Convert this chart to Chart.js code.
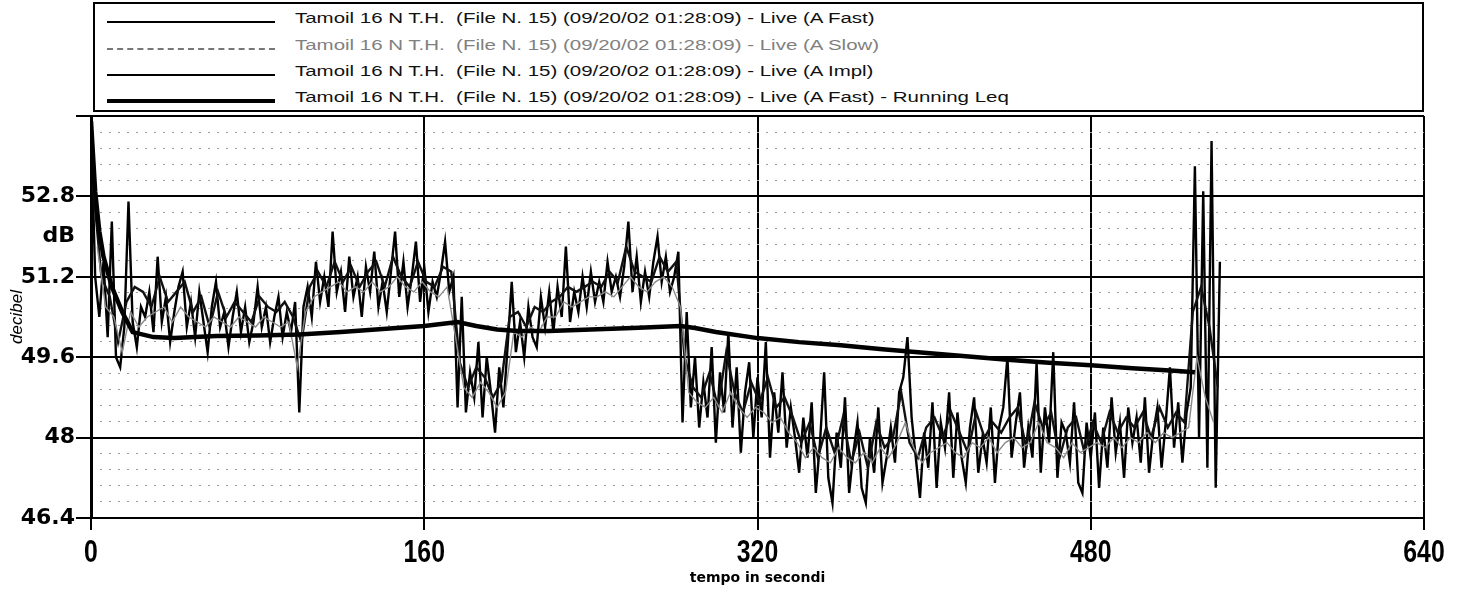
<!DOCTYPE html>
<html>
<head>
<meta charset="utf-8">
<title>Tamoil 16 N T.H.</title>
<script src="https://cdn.jsdelivr.net/npm/chart.js@4.4.1/dist/chart.umd.min.js"></script>
<style>
  html, body { margin: 0; padding: 0; background: #fff; }
  #wrap { position: relative; width: 1461px; height: 590px; overflow: hidden; }
  #chart { position: absolute; left: 0; top: 0; }
  #legend { position: absolute; left: 93px; top: 2px; width: 1331px; height: 110px;
            border: 2px solid #000; box-sizing: border-box; background: #fff; }
  .row { position: absolute; left: 0; width: 100%; height: 26px; }
  .sample { position: absolute; left: 12px; width: 168px; height: 0; }
  .label { position: absolute; left: 200px; top: 0; line-height: 26px; white-space: pre;
           font: 15.5px 'Liberation Sans', Arial, sans-serif;
           transform: scaleX(1.32); transform-origin: 0 50%; }
</style>
</head>
<body>
<div id="wrap">
  <canvas id="chart" width="1461" height="590"></canvas>
  <div id="legend"></div>
</div>
<script>
// time axis (seconds) and dB axis
const xTicks = [0, 160, 320, 480, 640];
const yTicks = [46.4, 48, 49.6, 51.2, 52, 52.8, 54.4];
const yTickLabels = ['46.4', '48', '49.6', '51.2', 'dB', '52.8', ''];

const seriesNames = [
  'Tamoil 16 N T.H.  (File N. 15) (09/20/02 01:28:09) - Live (A Fast)',
  'Tamoil 16 N T.H.  (File N. 15) (09/20/02 01:28:09) - Live (A Slow)',
  'Tamoil 16 N T.H.  (File N. 15) (09/20/02 01:28:09) - Live (A Impl)',
  'Tamoil 16 N T.H.  (File N. 15) (09/20/02 01:28:09) - Live (A Fast) - Running Leq'
];

// A Fast, one value every 2 s starting at 0 s
const fastStart = 0, fastStep = 2;
const fastValues = [
  54.3, 51.2, 50.4, 51.5, 50.0, 52.3, 49.6, 49.4, 50.2, 52.7,   // 0
  50.3, 49.8, 50.6, 50.4, 50.9, 50.1, 51.6, 50.3, 50.8, 49.9,   // 20
  50.5, 51.0, 51.3, 50.2, 50.7, 50.0, 50.9, 50.3, 49.7, 50.6,   // 40
  51.1, 50.2, 50.5, 49.8, 50.4, 50.9, 50.1, 50.6, 49.9, 50.3,   // 60
  51.0, 50.2, 50.6, 49.9, 50.4, 50.8, 50.0, 50.5, 50.1, 50.7,   // 80
  48.5, 50.6, 51.0, 50.4, 51.5, 50.7, 51.2, 50.6, 52.1, 50.9,   // 100
  51.3, 50.5, 51.6, 50.8, 51.2, 50.4, 51.4, 50.9, 51.7, 50.6,   // 120
  51.1, 50.5, 51.3, 52.1, 50.8, 51.5, 50.6, 51.2, 51.9, 50.7,   // 140
  51.4, 50.5, 51.1, 50.8, 51.3, 51.9, 50.9, 51.2, 48.6, 50.8,   // 160
  48.5, 49.3, 48.8, 49.9, 48.4, 49.6, 48.9, 48.1, 49.4, 48.6,   // 180
  49.8, 51.1, 49.7, 50.3, 49.6, 50.6, 50.0, 49.8, 50.8, 50.2,   // 200
  50.9, 50.1, 51.0, 50.4, 51.8, 50.3, 50.9, 50.5, 51.2, 50.6,   // 220
  51.3, 50.7, 51.1, 50.7, 51.5, 50.9, 51.2, 50.8, 51.4, 52.3,   // 240
  50.9, 51.6, 50.7, 51.3, 50.8, 51.5, 52.0, 51.1, 51.6, 50.9,   // 260
  51.2, 51.7, 48.3, 50.5, 48.6, 49.6, 48.2, 49.1, 48.4, 49.8,   // 280
  47.9, 49.3, 48.5, 50.1, 48.2, 49.4, 47.7, 48.9, 49.5, 48.0,   // 300
  49.2, 48.4, 49.9, 47.6, 48.9, 48.1, 49.3, 47.8, 48.6, 48.0,   // 320
  47.3, 48.4, 47.6, 48.7, 46.9, 47.9, 49.3, 47.2, 46.7, 48.1,   // 340
  47.4, 48.8, 46.9, 47.7, 48.3, 47.0, 46.7, 48.0, 47.3, 48.6,   // 360
  47.1, 47.6, 48.2, 47.5, 48.9, 49.2, 50.0, 48.4, 47.6, 46.8,   // 380
  48.1, 47.4, 48.7, 47.0, 48.3, 47.8, 48.9, 47.2, 48.5, 47.6,   // 400
  47.1, 48.2, 48.8, 47.3, 48.0, 47.5, 48.6, 47.1, 48.2, 48.6,   // 420
  49.6, 47.6, 48.3, 48.9, 47.4, 48.2, 47.6, 49.5, 47.3, 48.6,   // 440
  47.9, 49.7, 47.2, 48.3, 48.1, 47.5, 48.7, 47.1, 46.9, 48.3,   // 460
  47.6, 48.5, 47.0, 48.2, 47.4, 48.8, 47.7, 48.3, 47.2, 48.6,   // 480
  47.9, 48.4, 47.5, 48.8, 47.3, 48.1, 48.6, 47.4, 48.3, 49.4,   // 500
  47.8, 48.7, 47.5, 48.5, 49.0, 53.4, 48.0, 52.9, 47.4, 53.9,   // 520
  47.0, 51.5                                                    // 540
];

// A Impl, one value every 4 s starting at 1 s
const implStart = 1, implStep = 4;
const implValues = [
  53.0, 51.2, 50.8, 49.9, 50.7, 51.0, 50.9, 50.6, 51.2, 50.7,   // 1
  50.9, 51.1, 50.5, 50.8, 50.2, 50.9, 50.4, 50.7, 50.5, 50.3,   // 41
  50.8, 50.6, 50.5, 50.7, 50.4, 49.9, 51.0, 51.3, 51.0, 51.5,   // 81
  51.1, 51.4, 51.0, 51.3, 51.5, 51.0, 51.6, 51.2, 51.0, 51.5,   // 121
  51.1, 51.0, 51.4, 51.3, 49.5, 49.0, 49.4, 49.2, 48.8, 49.1,   // 161
  50.4, 50.5, 50.2, 50.6, 50.5, 50.7, 50.8, 51.0, 50.9, 51.0,   // 201
  51.1, 51.0, 51.3, 51.1, 51.8, 51.3, 51.2, 51.1, 51.6, 51.3,   // 241
  51.5, 49.6, 49.0, 48.8, 49.3, 48.6, 49.7, 48.9, 48.5, 49.1,   // 281
  48.7, 49.2, 48.6, 48.8, 48.4, 47.9, 48.3, 47.6, 48.2, 47.7,   // 321
  48.4, 47.5, 48.1, 47.4, 48.3, 47.8, 48.0, 48.9, 47.9, 47.6,   // 361
  48.2, 48.4, 48.0, 48.5, 48.1, 47.7, 48.5, 48.0, 48.3, 48.1,   // 401
  48.4, 48.6, 47.8, 48.7, 48.2, 48.5, 47.6, 48.2, 48.4, 47.7,   // 441
  48.3, 47.9, 48.5, 48.1, 48.4, 48.2, 48.5, 48.0, 48.6, 48.2,   // 481
  48.5, 48.3, 50.5, 51.0, 50.2, 49.0                            // 521
];

// A Slow, one value every 4 s starting at 3 s
const slowStart = 3, slowStep = 4;
const slowValues = [
  51.8, 50.6, 50.4, 49.7, 50.5, 50.2, 50.4, 50.5, 50.6, 50.3,   // 3
  50.6, 50.4, 50.3, 50.2, 50.4, 50.3, 50.2, 50.4, 50.3, 50.2,   // 43
  50.4, 50.3, 50.2, 50.3, 49.4, 50.5, 50.8, 50.9, 51.0, 51.1,   // 83
  50.9, 51.0, 50.9, 51.1, 50.9, 51.0, 51.2, 51.0, 50.9, 51.1,   // 123
  50.9, 50.8, 51.0, 50.0, 49.0, 48.8, 49.1, 48.9, 48.6, 48.9,   // 163
  50.1, 50.0, 50.2, 50.1, 50.4, 50.4, 50.7, 50.6, 50.7, 50.8,   // 203
  50.8, 50.9, 50.8, 51.0, 51.2, 51.0, 50.9, 51.1, 51.2, 51.0,   // 243
  50.6, 48.9, 48.7, 48.6, 48.8, 48.5, 48.9, 48.6, 48.4, 48.6,   // 283
  48.5, 48.3, 48.4, 48.1, 47.9, 47.6, 47.8, 47.6, 47.5, 47.8,   // 323
  47.6, 47.5, 47.7, 47.5, 47.8, 47.6, 47.9, 48.3, 47.8, 47.5,   // 363
  47.7, 47.8, 47.9, 47.7, 47.6, 47.9, 47.8, 48.0, 47.7, 47.9,   // 403
  48.0, 47.8, 47.9, 48.3, 47.9, 47.8, 47.6, 47.9, 47.7, 47.8,   // 443
  47.9, 47.8, 48.0, 47.8, 48.0, 47.9, 48.1, 47.9, 48.1, 48.0,   // 483
  48.1, 48.2, 49.6, 48.8, 48.3                                  // 523
];

// Running Leq of A Fast
const leqTimes = [0, 2, 4, 6, 10, 15, 20, 30, 40, 50, 60, 80, 100, 120, 140, 160, 176, 185, 195,
  205, 220, 240, 260, 283, 290, 300, 320, 340, 360, 380, 400, 420, 440, 460, 480, 500, 520, 530];
const leqValues = [54.3, 52.9, 52.1, 51.6, 51.0, 50.5, 50.1, 50.0, 49.98, 50.0, 50.02, 50.03, 50.05,
  50.1, 50.16, 50.22, 50.3, 50.22, 50.15, 50.12, 50.12, 50.15, 50.18, 50.22, 50.18, 50.1, 49.98,
  49.9, 49.84, 49.76, 49.69, 49.62, 49.55, 49.49, 49.44, 49.38, 49.33, 49.3];

const toPoints = (start, step, values) => values.map((v, i) => ({ x: start + i * step, y: v }));

const isMajor = v => {
  const k = (v - 46.4) / 1.6;
  return Math.abs(k - Math.round(k)) < 1e-6;
};

// x tick labels are condensed in the original; draw them squeezed at the x scale positions
const condensedXLabels = {
  id: 'condensedXLabels',
  afterDraw(chart) {
    const s = chart.scales.x;
    const ctx = chart.ctx;
    const baseY = chart.chartArea.bottom + 44;
    ctx.save();
    ctx.fillStyle = '#000';
    ctx.font = "bold 31px 'Liberation Sans', Arial, sans-serif";
    ctx.textAlign = 'center';
    ctx.textBaseline = 'alphabetic';
    xTicks.forEach(v => {
      ctx.save();
      ctx.translate(s.getPixelForValue(v), baseY);
      ctx.scale(0.8, 1);
      ctx.fillText(String(v), 0, 0);
      ctx.restore();
    });
    ctx.restore();
  }
};

const chart = new Chart(document.getElementById('chart'), {
  type: 'line',
  data: {
    datasets: [
      { label: seriesNames[0], data: toPoints(fastStart, fastStep, fastValues),
        borderColor: '#000', borderWidth: 2.4, order: 3 },
      { label: seriesNames[1], data: toPoints(slowStart, slowStep, slowValues),
        borderColor: '#8a8a8a', borderWidth: 1.4, order: 1 },
      { label: seriesNames[2], data: toPoints(implStart, implStep, implValues),
        borderColor: '#111', borderWidth: 2.4, order: 2 },
      { label: seriesNames[3], data: leqTimes.map((t, i) => ({ x: t, y: leqValues[i] })),
        borderColor: '#000', borderWidth: 4.5, order: 0 }
    ]
  },
  plugins: [condensedXLabels],
  options: {
    responsive: false,
    animation: false,
    events: [],
    elements: { point: { radius: 0 }, line: { tension: 0, fill: false } },
    layout: { padding: { top: 116, right: 37, left: 0, bottom: 0 } },
    plugins: { legend: { display: false }, tooltip: { enabled: false } },
    scales: {
      x: {
        type: 'linear', min: 0, max: 640,
        afterBuildTicks: s => { s.ticks = xTicks.map(v => ({ value: v })); },
        afterFit: s => { s.height = 72; },
        grid: { color: '#000', lineWidth: 2, tickLength: 12, tickColor: '#000', tickWidth: 2 },
        border: { color: '#000', width: 2 },
        ticks: { display: false },
        title: { display: true, text: 'tempo in secondi', color: '#000',
                 font: { family: "'DejaVu Sans', sans-serif", size: 14, weight: 'bold' },
                 padding: { top: 0, bottom: 3 } }
      },
      y: {
        position: 'left', min: 46.4, max: 54.4,
        afterBuildTicks: s => { s.ticks = yTicks.map(v => ({ value: v })); },
        afterFit: s => { s.width = 91; },
        grid: {
          color: c => yTickLabels[c.index] === 'dB' ? 'rgba(0,0,0,0)' : '#000',
          tickColor: c => yTickLabels[c.index] === 'dB' ? 'rgba(0,0,0,0)' : '#000',
          lineWidth: 2, tickLength: 15, tickWidth: 2
        },
        border: { color: '#000', width: 3 },
        ticks: { color: '#000', padding: 1, autoSkip: false,
                 font: { family: "'DejaVu Sans', sans-serif", size: 22, weight: 'bold' },
                 callback: (v, i) => yTickLabels[i] },
        title: { display: true, text: 'decibel', color: '#000',
                 font: { family: "'Liberation Sans', Arial, sans-serif", size: 17, style: 'italic' },
                 padding: { top: 7 } }
      },
      yMinor: {
        position: 'left', min: 46.4, max: 54.4,
        afterFit: s => { s.width = 0; },
        ticks: { display: false, stepSize: 0.32 },
        grid: {
          drawTicks: false, lineWidth: 1,
          color: c => (c.tick && isMajor(c.tick.value)) ? 'rgba(0,0,0,0)' : '#9a9a9a'
        },
        border: { display: false, dash: [2, 7] }
      }
    }
  }
});

// legend box drawn as html, one row per dataset
const legendTops = [5, 32, 58, 84];
const legend = document.getElementById('legend');
chart.data.datasets.forEach((ds, i) => {
  const row = document.createElement('div');
  row.className = 'row';
  row.style.top = legendTops[i] + 'px';
  const sample = document.createElement('div');
  sample.className = 'sample';
  const w = i === 3 ? 4 : 2;
  sample.style.top = (13 - w / 2) + 'px';
  sample.style.borderTop = w + 'px ' + (i === 1 ? 'dashed ' : 'solid ') + (i === 1 ? '#777' : '#000');
  const label = document.createElement('div');
  label.className = 'label';
  label.style.color = i === 1 ? '#808080' : '#111';
  label.textContent = ds.label;
  row.appendChild(sample);
  row.appendChild(label);
  legend.appendChild(row);
});
</script>
</body>
</html>
